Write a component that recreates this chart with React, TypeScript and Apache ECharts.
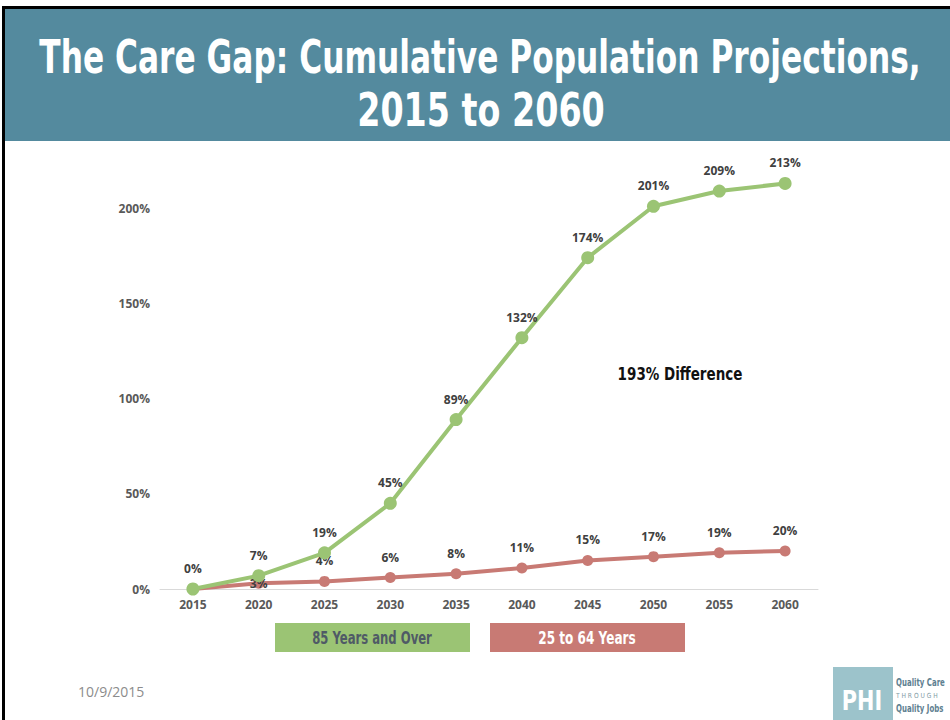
import React, { useEffect, useRef } from "react";
import * as echarts from "echarts";

const years = ["2015", "2020", "2025", "2030", "2035", "2040", "2045", "2050", "2055", "2060"];
const seriesNames = ["85 Years and Over", "25 to 64 Years"];
const over85 = [0, 7, 19, 45, 89, 132, 174, 201, 209, 213];
const age25to64 = [0, 3, 4, 6, 8, 11, 15, 17, 19, 20];
const yTicks = [0, 50, 100, 150, 200];
const titleLines = ["The Care Gap: Cumulative Population Projections,", "2015 to 2060"];
const annotation = "193% Difference";
const dateText = "10/9/2015";

const GREEN = "#9BC474";
const RED = "#C87A74";
const COND = '"DejaVu Sans", sans-serif';
const LABEL_FONT = '"Open Sans", "Noto Sans", sans-serif';

export default function App() {
  const ref = useRef<HTMLDivElement>(null);
  useEffect(() => {
    if (!ref.current) return;
    const chart = echarts.init(ref.current, null, { renderer: "svg" });
    const labelStyle = {
      show: true,
      position: "top",
      formatter: "{c}%",
      color: "#404040",
      fontFamily: LABEL_FONT,
      fontWeight: "bold",
      fontSize: 12,
    };
    const redData = age25to64.map((v, i) => {
      if (i === 0) return { value: v, label: { show: false } };
      if (i === 1) return { value: v, label: { offset: [0, 21] } };
      return v;
    });
    const condText = (
      text: string,
      x: number,
      y: number,
      size: number,
      fill: string,
      sx: number,
      align = "center",
      weight = "bold"
    ) => ({
      type: "text",
      x,
      y,
      scaleX: sx,
      style: {
        text,
        fill,
        font: `${weight} ${size}px ${COND}`,
        textAlign: align,
        textVerticalAlign: "middle",
      },
    });
    chart.setOption({
      animation: false,
      backgroundColor: "#ffffff",
      grid: { left: 160, right: 132, top: 113, bottom: 131, containLabel: false },
      xAxis: {
        type: "category",
        data: years,
        boundaryGap: true,
        axisLine: { show: true, lineStyle: { color: "#D9D9D9", width: 1 } },
        axisTick: { show: false },
        axisLabel: {
          color: "#595959",
          fontFamily: LABEL_FONT,
          fontWeight: "bold",
          fontSize: 12,
          margin: 9,
        },
      },
      yAxis: {
        type: "value",
        min: 0,
        max: 250,
        interval: 50,
        splitLine: { show: false },
        axisLine: { show: false },
        axisTick: { show: false },
        axisLabel: {
          color: "#595959",
          fontFamily: LABEL_FONT,
          fontWeight: "bold",
          fontSize: 12,
          margin: 10,
          formatter: (v: number) => (yTicks.includes(v) ? v + "%" : ""),
        },
      },
      series: [
        {
          name: seriesNames[1],
          type: "line",
          data: redData,
          symbol: "circle",
          symbolSize: 11,
          lineStyle: { color: RED, width: 4 },
          itemStyle: { color: RED },
          label: { ...labelStyle, distance: 9 },
          z: 2,
        },
        {
          name: seriesNames[0],
          type: "line",
          data: over85,
          symbol: "circle",
          symbolSize: 13,
          lineStyle: { color: GREEN, width: 4 },
          itemStyle: { color: GREEN },
          label: { ...labelStyle, distance: 8 },
          z: 3,
        },
      ],
      graphic: [
        { type: "rect", shape: { x: 2, y: 6, width: 948, height: 3 }, style: { fill: "#000" } },
        { type: "rect", shape: { x: 2, y: 6, width: 3, height: 714 }, style: { fill: "#000" } },
        { type: "rect", shape: { x: 5, y: 9, width: 945, height: 132 }, style: { fill: "#548A9E" } },
        condText(titleLines[0], 480, 57, 46, "#ffffff", 0.68),
        condText(titleLines[1], 481, 110, 46, "#ffffff", 0.725),
        condText(annotation, 680, 374, 18, "#111111", 0.75),
        { type: "rect", shape: { x: 275, y: 623, width: 195, height: 29 }, style: { fill: GREEN } },
        condText(seriesNames[0], 372, 638, 17, "#4F5A66", 0.685),
        { type: "rect", shape: { x: 490, y: 623, width: 195, height: 29 }, style: { fill: RED } },
        condText(seriesNames[1], 587, 638, 17, "#ffffff", 0.71),
        {
          type: "text",
          x: 78,
          y: 691,
          style: {
            text: dateText,
            fill: "#8C8C8C",
            font: `14px ${LABEL_FONT}`,
            textAlign: "left",
            textVerticalAlign: "middle",
          },
        },
        { type: "rect", shape: { x: 833, y: 667, width: 60, height: 53 }, style: { fill: "#9CC3CB" } },
        condText("PHI", 862, 701, 26, "#ffffff", 0.8),
        condText("Quality Care", 896, 683, 10, "#5E8090", 0.7, "left"),
        condText("T H R O U G H", 896, 696, 7, "#7F9BA5", 0.85, "left", "normal"),
        condText("Quality Jobs", 896, 709, 10, "#5E8090", 0.7, "left"),
      ],
    });
    return () => chart.dispose();
  }, []);
  return (
    <div
      ref={ref}
      style={{ position: "fixed", left: 0, top: 0, width: 950, height: 720, background: "#fff" }}
    />
  );
}
